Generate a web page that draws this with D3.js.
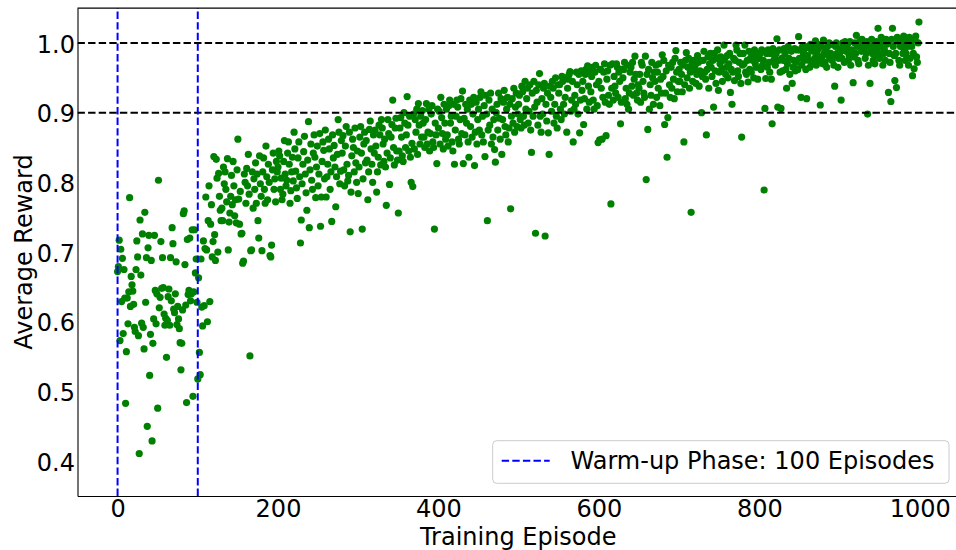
<!DOCTYPE html>
<html><head><meta charset="utf-8">
<script src="https://cdn.jsdelivr.net/npm/d3@7"></script>
<style>body{margin:0;background:#fff}svg{display:block;font-family:"DejaVu Sans",sans-serif}</style>
</head><body><svg id="c" width="956" height="550"></svg>
<script>
// ---- data ----
const warmupEpisodes = 100;
const targetLevels = [0.9, 1.0];
const xTickValues = [0, 200, 400, 600, 800, 1000];
const yTickValues = [0.4, 0.5, 0.6, 0.7, 0.8, 0.9, 1.0];
const xLabel = "Training Episode";
const yLabel = "Average Reward";
const legendLabel = "Warm-up Phase: 100 Episodes";
// average reward per episode (x1000), episodes 0..999
const rewardMilli = [
672,679,717,573,704,629,691,583,675,634,
483,557,634,597,643,778,622,665,653,644,
625,592,586,675,716,693,580,411,746,667,
598,726,592,561,757,628,692,450,706,724,
523,582,688,429,569,604,724,645,597,640,
476,803,620,635,715,648,692,649,611,595,
605,549,602,636,647,595,692,630,735,712,
618,613,640,686,596,622,604,590,570,531,
569,617,755,759,682,624,484,718,639,645,
720,630,640,732,493,643,732,670,690,628,
518,663,556,524,690,621,594,716,623,705,
779,703,600,745,795,629,740,768,693,715,
837,725,688,833,806,700,813,780,760,745,
763,745,822,798,815,790,772,834,703,743,
756,780,810,768,830,795,752,775,742,818,
862,776,740,787,726,727,684,687,812,800,
770,820,795,840,783,551,702,703,815,763,
805,790,828,770,812,745,720,838,798,780,
702,815,835,790,770,852,808,775,826,800,
695,693,710,818,842,790,805,772,830,815,
822,845,838,790,806,775,783,830,860,812,
795,803,842,858,826,770,788,815,836,802,
872,848,816,792,777,835,858,808,713,746,
798,826,844,866,812,785,760,832,887,735,
818,855,803,790,842,868,836,778,822,852,
795,812,870,737,779,830,858,846,805,875,
779,808,826,862,848,790,815,744,868,835,
853,822,765,808,840,890,872,798,816,860,
842,867,818,795,852,880,826,802,810,872,
729,786,838,862,850,815,878,828,800,845,
784,822,865,880,842,733,805,855,872,828,
860,832,775,815,876,888,848,826,800,868,
842,875,852,786,815,836,882,868,825,890,
878,855,830,862,822,767,842,890,870,797,
835,865,883,918,850,825,878,892,845,832,
756,845,878,893,865,838,830,900,885,850,
868,923,882,845,895,836,800,856,794,898,
848,890,872,905,840,913,882,855,895,865,
903,885,865,850,890,913,855,872,905,845,
870,898,910,858,850,733,885,868,827,905,
878,902,855,922,893,870,848,912,885,862,
905,868,852,910,918,885,895,858,845,912,
826,875,895,918,908,862,855,890,920,870,
931,827,892,868,912,885,905,858,836,918,
880,912,865,898,922,824,872,915,855,890,
905,875,922,930,868,895,858,910,837,925,
898,745,875,918,882,928,855,905,865,890,
847,829,900,912,875,928,892,862,920,840,
890,915,932,880,868,905,922,858,878,912,
762,895,920,885,935,872,908,928,880,898,
912,925,890,878,938,930,895,882,945,905,
920,935,885,902,940,875,843,928,895,945,
908,727,932,915,882,940,956,895,872,920,
898,935,942,723,912,888,928,871,840,938,
922,902,945,935,885,912,950,895,878,940,
928,940,905,890,952,945,912,898,922,950,
872,935,948,955,959,902,918,945,858,905,
925,912,958,940,898,955,871,918,960,932,
945,883,920,955,962,905,967,938,915,958,
930,952,965,918,905,958,968,940,910,857,
945,861,962,935,862,922,958,970,915,867,
948,960,925,912,968,769,935,970,918,952,
938,928,970,965,922,958,945,884,915,962,
950,962,972,920,935,912,968,905,928,958,
965,938,972,925,948,981,955,928,918,940,
935,955,915,972,968,945,928,922,981,804,
955,876,962,905,940,925,972,950,912,958,
945,968,922,958,935,970,910,948,928,983,
952,975,883,928,960,836,893,968,940,922,
965,935,972,948,920,978,989,958,930,945,
962,945,972,955,930,968,858,940,975,986,
950,965,978,935,958,757,970,945,975,962,
968,942,955,982,972,938,960,975,900,952,
975,988,958,948,868,962,980,935,970,985,
965,952,975,908,985,960,942,978,990,932,
958,970,980,962,945,975,997,978,955,965,
982,950,970,985,929,962,912,958,978,946,
975,997,990,960,952,972,985,942,865,968,
985,970,997,958,955,975,944,988,962,978,
958,982,975,950,990,970,965,985,948,978,
978,985,962,990,968,975,789,906,949,985,
965,990,972,958,985,948,884,992,975,982,
968,985,1006,908,975,990,958,906,978,960,
975,992,985,962,935,970,995,978,955,990,
988,942,965,975,992,960,972,990,962,1009,
978,990,922,968,995,985,975,992,962,920,
982,995,975,965,998,990,972,988,995,978,
1003,968,985,998,992,975,911,995,980,970,
1004,985,972,990,965,995,982,1000,978,985,
998,975,982,968,938,995,1000,985,965,978,
985,992,918,978,1000,995,972,1002,988,990,
998,975,982,1002,968,990,988,943,980,1000,
985,1011,995,975,970,1002,998,988,1005,990,
992,1000,978,985,1002,898,968,995,942,990,
1005,985,975,998,970,982,1002,992,1021,985,
978,995,1008,1002,968,985,990,975,1005,998,
1000,929,985,972,916,1005,1021,995,982,946,
985,936,1008,1002,975,968,995,1005,998,985,
1010,990,975,985,1002,995,968,1008,978,1000,
995,953,985,963,1005,1010,980,972,1000,1030
];
const points = rewardMilli.map((v, i) => ({ episode: i, reward: v / 1000 }));

// ---- layout ----
const W = 956, H = 550;
const L = 77.5, R = 959, T = 8.1, B = 496;
const svg = d3.select("#c");
const x = d3.scaleLinear().domain([-49.95, 1048.95]).range([L, R]);
const y = d3.scaleLinear().domain([0.35, 1.05]).range([B, T]);
const FS = 24;

svg.append("defs").append("clipPath").attr("id", "plotclip")
  .append("rect").attr("x", L).attr("y", T).attr("width", R - L).attr("height", B - T);

const plot = svg.append("g").attr("clip-path", "url(#plotclip)");
plot.selectAll("circle").data(points).join("circle")
  .attr("cx", d => x(d.episode)).attr("cy", d => y(d.reward))
  .attr("r", 3.6).attr("fill", "#008000");

// reference lines
plot.selectAll("line.target").data(targetLevels).join("line").attr("class", "target")
  .attr("x1", L).attr("x2", R).attr("y1", d => y(d)).attr("y2", d => y(d))
  .attr("stroke", "#000").attr("stroke-width", 2).attr("stroke-dasharray", "7.4,3.2");
plot.selectAll("line.warm").data([0, warmupEpisodes]).join("line").attr("class", "warm")
  .attr("x1", d => x(d)).attr("x2", d => x(d)).attr("y1", B).attr("y2", T)
  .attr("stroke", "#0000ff").attr("stroke-width", 2).attr("stroke-dasharray", "7.4,3.2");

// axes
const xAxis = svg.append("g").attr("transform", `translate(0,${B})`)
  .call(d3.axisBottom(x).tickValues(xTickValues).tickFormat(d3.format("d")).tickSize(0).tickSizeOuter(0).tickPadding(3.5));
const yAxis = svg.append("g").attr("transform", `translate(${L},0)`)
  .call(d3.axisLeft(y).tickValues(yTickValues).tickFormat(d3.format(".1f")).tickSize(0).tickSizeOuter(0).tickPadding(2.5));
[xAxis, yAxis].forEach(g => {
  g.attr("font-family", null).attr("font-size", null);
  g.selectAll("text").attr("font-size", FS).attr("fill", "#000").style("font-family", "'DejaVu Sans'");
  g.select(".domain").attr("stroke", "#000").attr("stroke-width", 1.1);
});
yAxis.selectAll(".tick text").attr("dy", "0.38em");
// top spine
svg.append("line").attr("x1", L).attr("x2", W).attr("y1", T).attr("y2", T)
  .attr("stroke", "#000").attr("stroke-width", 1.1);

// axis labels
svg.append("text").attr("x", (L + R) / 2).attr("y", 544.5).attr("text-anchor", "middle")
  .attr("font-size", FS).text(xLabel);
svg.append("text").attr("transform", `translate(31.5,${(T + B) / 2}) rotate(-90)`)
  .attr("text-anchor", "middle").attr("font-size", FS).text(yLabel);

// legend
const lg = svg.append("g");
lg.append("rect").attr("x", 492.7).attr("y", 440.7).attr("width", 456.3).attr("height", 42.6)
  .attr("rx", 4).attr("fill", "#fff").attr("fill-opacity", 0.8).attr("stroke", "#cccccc").attr("stroke-width", 1);
lg.append("line").attr("x1", 501.7).attr("x2", 549.7).attr("y1", 460.7).attr("y2", 460.7)
  .attr("stroke", "#0000ff").attr("stroke-width", 2).attr("stroke-dasharray", "7.4,3.2");
lg.append("text").attr("x", 570.5).attr("y", 469).attr("font-size", FS).text(legendLabel);
</script></body></html>
